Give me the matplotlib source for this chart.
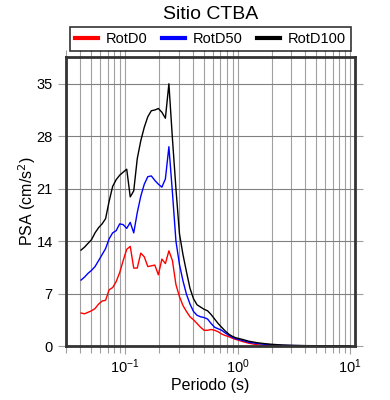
"""Response spectra for station CTBA - RotD0 / RotD50 / RotD100."""

import matplotlib.pyplot as plt
from matplotlib.ticker import FixedLocator, LogLocator, NullFormatter

plt.rcParams["font.family"] = ["Liberation Sans", "DejaVu Sans"]

# Periods (s)
periods = [
    0.0405, 0.0435, 0.0467, 0.0502, 0.0539, 0.0580, 0.0623, 0.0669, 0.0719, 0.0773,
    0.0831, 0.0893, 0.0959, 0.1031, 0.1108, 0.1190, 0.1279, 0.1375, 0.1477, 0.1587,
    0.1706, 0.1833, 0.1970, 0.2117, 0.2275, 0.2444, 0.2627, 0.2823, 0.3033, 0.3260,
    0.3503, 0.3764, 0.4046, 0.4348, 0.4672, 0.5021, 0.5395, 0.5798, 0.6230, 0.6695,
    0.7194, 0.7731, 0.8307, 0.8927, 0.9593, 1.1, 1.25, 1.5, 1.75, 2.0,
    2.5, 3.0, 4.0, 5.0, 6.5, 8.0, 10.0,
]

# PSA (cm/s^2)
rotd0 = [
    4.4, 4.3, 4.5, 4.7, 5.0, 5.6, 6.0, 6.1, 7.5, 7.8,
    8.6, 9.8, 11.4, 12.9, 13.3, 10.4, 10.4, 12.4, 11.9, 10.6,
    10.7, 10.8, 9.5, 11.6, 11.0, 12.7, 11.4, 8.2, 6.6, 5.4,
    4.6, 3.9, 3.5, 3.0, 2.5, 2.1, 2.1, 2.2, 2.1, 1.9,
    1.6, 1.4, 1.25, 1.05, 0.88, 0.6, 0.38, 0.15, 0.08, 0.05,
    0.03, 0.02, 0.01, 0.01, 0.01, 0.01, 0.01,
]
rotd50 = [
    8.8, 9.2, 9.7, 10.1, 10.6, 11.4, 12.2, 13.0, 14.3, 15.1,
    15.4, 16.3, 16.2, 15.7, 16.5, 15.1, 17.8, 20.0, 21.6, 22.6,
    22.7, 22.1, 21.6, 21.2, 22.3, 26.6, 20.5, 14.0, 10.9, 8.7,
    6.9, 5.6, 4.6, 4.1, 3.9, 3.8, 3.6, 3.0, 2.5, 2.3,
    2.1, 1.75, 1.45, 1.17, 0.97, 0.75, 0.5, 0.33, 0.22, 0.14,
    0.09, 0.06, 0.04, 0.03, 0.02, 0.02, 0.01,
]
rotd100 = [
    12.8, 13.2, 13.7, 14.2, 15.1, 15.8, 16.3, 17.0, 19.3, 21.3,
    22.2, 22.8, 23.2, 23.6, 19.9, 20.7, 25.0, 27.4, 29.2, 30.6,
    31.4, 31.5, 31.7, 31.2, 30.4, 35.0, 27.7, 21.0, 15.0, 12.2,
    9.9, 7.7, 6.3, 5.5, 5.2, 4.9, 4.7, 4.2, 3.6, 3.0,
    2.5, 2.0, 1.6, 1.3, 1.1, 0.88, 0.64, 0.43, 0.31, 0.23,
    0.13, 0.09, 0.05, 0.04, 0.03, 0.02, 0.02,
]

y_ticks = [0, 7, 14, 21, 28, 35]

fig = plt.figure(figsize=(3.9, 4.0), dpi=100)
ax = fig.add_axes([0.169, 0.135, 0.741, 0.723])

ax.plot(periods, rotd0, color="#ff0000", linewidth=1.0, label="RotD0")
ax.plot(periods, rotd50, color="#0000ff", linewidth=1.0, label="RotD50")
ax.plot(periods, rotd100, color="#000000", linewidth=1.0, label="RotD100")

ax.set_xscale("log")
ax.set_xlim(0.0297, 11.0)
ax.set_ylim(0, 38.6)
ax.yaxis.set_major_locator(FixedLocator(y_ticks))
ax.xaxis.set_major_locator(LogLocator(base=10))
ax.xaxis.set_minor_locator(LogLocator(base=10, subs=range(2, 10)))
ax.xaxis.set_minor_formatter(NullFormatter())

# grid on every tick, light gray
ax.grid(True, which="both", axis="x", color="#a0a0a0", linewidth=0.8)
ax.grid(True, which="major", axis="y", color="#808080", linewidth=0.8)
ax.set_axisbelow(True)

for side in ["left", "right", "top", "bottom"]:
    ax.spines[side].set_linewidth(2.0)
    ax.spines[side].set_color("#333333")

ax.tick_params(which="both", direction="out", length=5, width=0.8, color="#a0a0a0",
               top=True, right=True, labelsize=10.5)
ax.tick_params(which="major", length=6)
ax.tick_params(axis="x", pad=2)

ax.set_xlabel("Periodo (s)", fontsize=11.5, labelpad=2)
ax.set_ylabel("PSA (cm/s$^2$)", fontsize=11.5, labelpad=-1)

fig.text(0.54, 0.963, "Sitio CTBA", ha="center", va="center", fontsize=14)

leg = ax.legend(loc="lower center", bbox_to_anchor=(0.5, 1.02), ncol=3,
                fontsize=10.5, frameon=True, fancybox=False, borderpad=0.35,
                handlelength=1.6, handletextpad=0.5, columnspacing=1.0,
                borderaxespad=0)
leg.get_frame().set_edgecolor("black")
leg.get_frame().set_linewidth(1.2)
for line in leg.get_lines():
    line.set_linewidth(3.0)

fig.savefig("out.png", dpi=100)
